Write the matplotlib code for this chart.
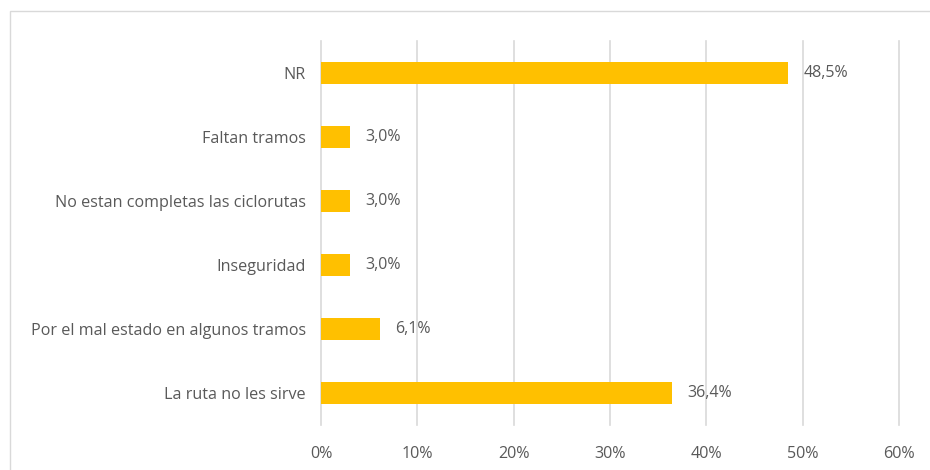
import matplotlib.pyplot as plt
import matplotlib.patches as patches
import numpy as np

categories = ['La ruta no les sirve', 'Por el mal estado en algunos tramos', 'Inseguridad',
              'No estan completas las ciclorutas', 'Faltan tramos', 'NR']
values = [36.4, 6.1, 3.0, 3.0, 3.0, 48.5]
xticks = [0, 10, 20, 30, 40, 50, 60]

text_color = '#595959'
grid_color = '#d9d9d9'
bar_color = '#FFC000'

plt.rcParams['font.family'] = ['Open Sans', 'DejaVu Sans']

fig = plt.figure(figsize=(9.3, 4.7), dpi=100)
# chart area border, cut off at right and bottom like the reference
fig.patches.append(patches.Rectangle((10 / 930, -0.1), 1.0, 1 - 11 / 470 + 0.1,
                                     transform=fig.transFigure, fill=False,
                                     edgecolor=grid_color, linewidth=1))

ax = fig.add_axes([321 / 930, 1 - 425 / 470, (899 - 321) / 930, (425 - 41) / 470])
y = np.arange(len(categories))
ax.barh(y, values, height=0.35, color=bar_color, zorder=3)

for yi, v in zip(y, values):
    ax.text(v + 1.6, yi, f'{v:.1f}%'.replace('.', ','), va='center', ha='left',
            fontsize=11.5, color=text_color)

ax.set_xlim(0, 60)
ax.set_ylim(-0.5, len(categories) - 0.5)
ax.set_xticks(xticks)
ax.set_xticklabels([f'{t}%' for t in xticks])
ax.set_yticks(y)
ax.set_yticklabels(categories)
for t in xticks:
    ax.axvline(t, color=grid_color, linewidth=1.2, zorder=0, clip_on=False)
for s in ax.spines.values():
    s.set_visible(False)
ax.tick_params(length=0, labelsize=11.6, colors=text_color)
ax.tick_params(axis='y', pad=11)
ax.tick_params(axis='x', pad=15)

fig.savefig('out.png', dpi=100)
